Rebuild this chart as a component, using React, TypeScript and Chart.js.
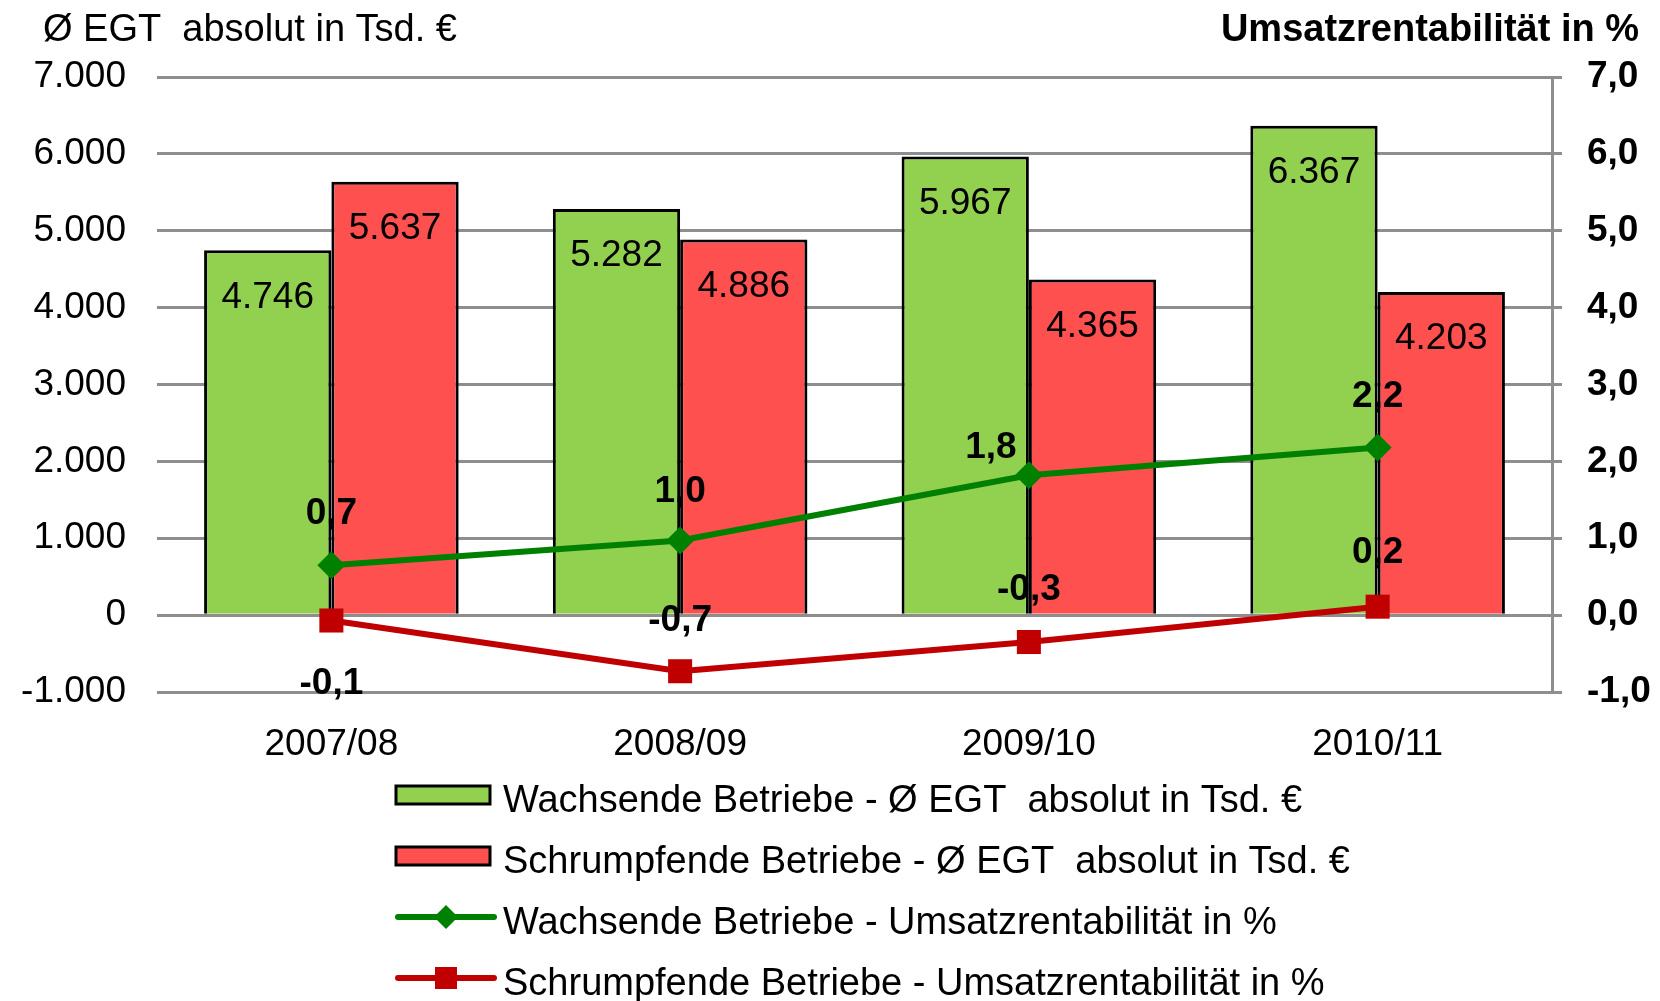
import React, { useEffect, useRef } from "react";
import { Chart, registerables } from "chart.js";

Chart.register(...registerables);

const categories = ["2007/08", "2008/09", "2009/10", "2010/11"];
const wachsendeEGT = [4746, 5282, 5967, 6367];
const schrumpfendeEGT = [5637, 4886, 4365, 4203];
const wachsendeRent = [0.65, 0.97, 1.82, 2.18];
const schrumpfendeRent = [-0.07, -0.73, -0.35, 0.11];
const wachsendeRentLabels = ["0,7", "1,0", "1,8", "2,2"];
const schrumpfendeRentLabels = ["-0,1", "-0,7", "-0,3", "0,2"];
const seriesNames = [
  "Wachsende Betriebe - Ø EGT  absolut in Tsd. €",
  "Schrumpfende Betriebe - Ø EGT  absolut in Tsd. €",
  "Wachsende Betriebe - Umsatzrentabilität in %",
  "Schrumpfende Betriebe - Umsatzrentabilität in %",
];
const leftTitle = "Ø EGT  absolut in Tsd. €";
const rightTitle = "Umsatzrentabilität in %";

const FONT = "'Liberation Sans', Arial, sans-serif";
const FS = 37;
const LEGEND_FS = 38;

function fmtThousands(v: number): string {
  const neg = v < 0;
  const s = String(Math.abs(Math.round(v))).replace(/\B(?=(\d{3})+(?!\d))/g, ".");
  return (neg ? "-" : "") + s;
}

function drawCentered(ctx: CanvasRenderingContext2D, text: string, x: number, cy: number, size: number, bold: boolean, align: CanvasTextAlign = "center") {
  ctx.font = `${bold ? "bold " : ""}${size}px ${FONT}`;
  ctx.textAlign = align;
  ctx.textBaseline = "alphabetic";
  ctx.fillStyle = "#000";
  ctx.fillText(text, x, cy + size * 0.36);
}

const greenLabelOffsets = [
  [0, -54],
  [0, -52],
  [-38, -31],
  [0, -54],
];
const redLabelOffsets = [
  [0, 60],
  [0, -54],
  [0, -55],
  [0, -57],
];

const labelsPlugin = {
  id: "customLabels",
  afterDatasetsDraw(chart: any) {
    const ctx = chart.ctx as CanvasRenderingContext2D;
    ctx.save();
    [0, 1].forEach((di) => {
      const meta = chart.getDatasetMeta(di);
      const data = chart.data.datasets[di].data as number[];
      meta.data.forEach((el: any, i: number) => {
        drawCentered(ctx, fmtThousands(data[i]), el.x, el.y + 44, FS, false);
      });
    });
    const g = chart.getDatasetMeta(2);
    g.data.forEach((el: any, i: number) => {
      drawCentered(ctx, wachsendeRentLabels[i], el.x + greenLabelOffsets[i][0], el.y + greenLabelOffsets[i][1], FS, true);
    });
    const r = chart.getDatasetMeta(3);
    r.data.forEach((el: any, i: number) => {
      drawCentered(ctx, schrumpfendeRentLabels[i], el.x + redLabelOffsets[i][0], el.y + redLabelOffsets[i][1], FS, true);
    });
    ctx.restore();
  },
};

const legendPlugin = {
  id: "customLegend",
  afterDraw(chart: any) {
    const ctx = chart.ctx as CanvasRenderingContext2D;
    ctx.save();
    drawCentered(ctx, leftTitle, 43, 27, 38, false, "left");
    drawCentered(ctx, rightTitle, 1639, 27, 38, true, "right");
    const rows = [798, 859, 920, 981];
    const x0 = 396;
    chart.data.datasets.forEach((ds: any, i: number) => {
      const cy = rows[i];
      const sy = cy - 3;
      if (ds.type === "bar") {
        ctx.fillStyle = ds.backgroundColor;
        ctx.fillRect(x0, sy - 9, 94, 18);
        ctx.strokeStyle = "#000";
        ctx.lineWidth = 3;
        ctx.strokeRect(x0, sy - 9, 94, 18);
      } else {
        ctx.strokeStyle = ds.borderColor;
        ctx.lineWidth = 6;
        ctx.lineCap = "round";
        ctx.beginPath();
        ctx.moveTo(x0 + 2, sy);
        ctx.lineTo(x0 + 98, sy);
        ctx.stroke();
        ctx.fillStyle = ds.borderColor;
        const mx = x0 + 50;
        if (ds.pointStyle === "rectRot") {
          ctx.beginPath();
          ctx.moveTo(mx - 12, sy);
          ctx.lineTo(mx, sy - 12);
          ctx.lineTo(mx + 12, sy);
          ctx.lineTo(mx, sy + 12);
          ctx.closePath();
          ctx.fill();
        } else {
          ctx.fillRect(mx - 11, sy - 11, 22, 22);
        }
      }
      drawCentered(ctx, ds.label, 503, cy, LEGEND_FS, false, "left");
    });
    ctx.restore();
  },
};

export default function App() {
  const ref = useRef<HTMLCanvasElement | null>(null);
  useEffect(() => {
    if (!ref.current) return;
    const tickFont = { family: FONT, size: FS };
    const chart = new Chart(ref.current, {
      type: "bar",
      data: {
        labels: categories,
        datasets: [
          {
            type: "bar",
            label: seriesNames[0],
            data: wachsendeEGT,
            backgroundColor: "#92D050",
            borderColor: "#000000",
            borderWidth: 3,
            yAxisID: "y",
            order: 2,
            categoryPercentage: 0.73,
            barPercentage: 1,
          },
          {
            type: "bar",
            label: seriesNames[1],
            data: schrumpfendeEGT,
            backgroundColor: "#FF5050",
            borderColor: "#000000",
            borderWidth: 3,
            yAxisID: "y",
            order: 2,
            categoryPercentage: 0.73,
            barPercentage: 1,
          },
          {
            type: "line",
            label: seriesNames[2],
            data: wachsendeRent,
            borderColor: "#008000",
            backgroundColor: "#008000",
            borderWidth: 6,
            pointStyle: "rectRot",
            pointRadius: 14,
            pointBorderWidth: 0,
            pointBackgroundColor: "#008000",
            yAxisID: "y1",
            order: 1,
          },
          {
            type: "line",
            label: seriesNames[3],
            data: schrumpfendeRent,
            borderColor: "#C00000",
            backgroundColor: "#C00000",
            borderWidth: 6,
            pointStyle: "rect",
            pointRadius: 17,
            pointBorderWidth: 0,
            pointBackgroundColor: "#C00000",
            yAxisID: "y1",
            order: 0,
          },
        ] as any,
      },
      options: {
        responsive: false,
        animation: false,
        layout: { padding: { top: 77, left: 0, right: 0, bottom: 0 } },
        plugins: { legend: { display: false }, tooltip: { enabled: false } },
        scales: {
          x: {
            grid: { display: false, drawTicks: false },
            border: { display: false },
            ticks: { font: tickFont, color: "#000", padding: 31, maxRotation: 0 },
            afterFit: (s: any) => {
              s.height = 309;
            },
          },
          y: {
            position: "left",
            min: -1000,
            max: 7000,
            ticks: { stepSize: 1000, font: tickFont, color: "#000", padding: 31, callback: (v: any) => fmtThousands(Number(v)) },
            grid: { color: "#8E8E8E", lineWidth: 3, drawTicks: false },
            border: { display: false },
            afterFit: (s: any) => {
              s.width = 157;
            },
          },
          y1: {
            position: "right",
            min: -1,
            max: 7,
            ticks: {
              stepSize: 1,
              font: { family: FONT, size: FS, weight: "bold" },
              color: "#000",
              padding: 25,
              callback: (v: any) => Number(v).toFixed(1).replace(".", ","),
            },
            grid: { drawOnChartArea: false, drawTicks: true, tickLength: 10, color: "#8E8E8E", lineWidth: 3 },
            border: { display: true, color: "#8E8E8E", width: 3 },
            afterFit: (s: any) => {
              s.width = 108;
            },
          },
        } as any,
      },
      plugins: [labelsPlugin, legendPlugin],
    });
    return () => chart.destroy();
  }, []);
  return (
    <div style={{ position: "absolute", left: 0, top: 0, width: 1660, height: 1001, background: "#fff" }}>
      <canvas ref={ref} width={1660} height={1001} style={{ display: "block" }} />
    </div>
  );
}
